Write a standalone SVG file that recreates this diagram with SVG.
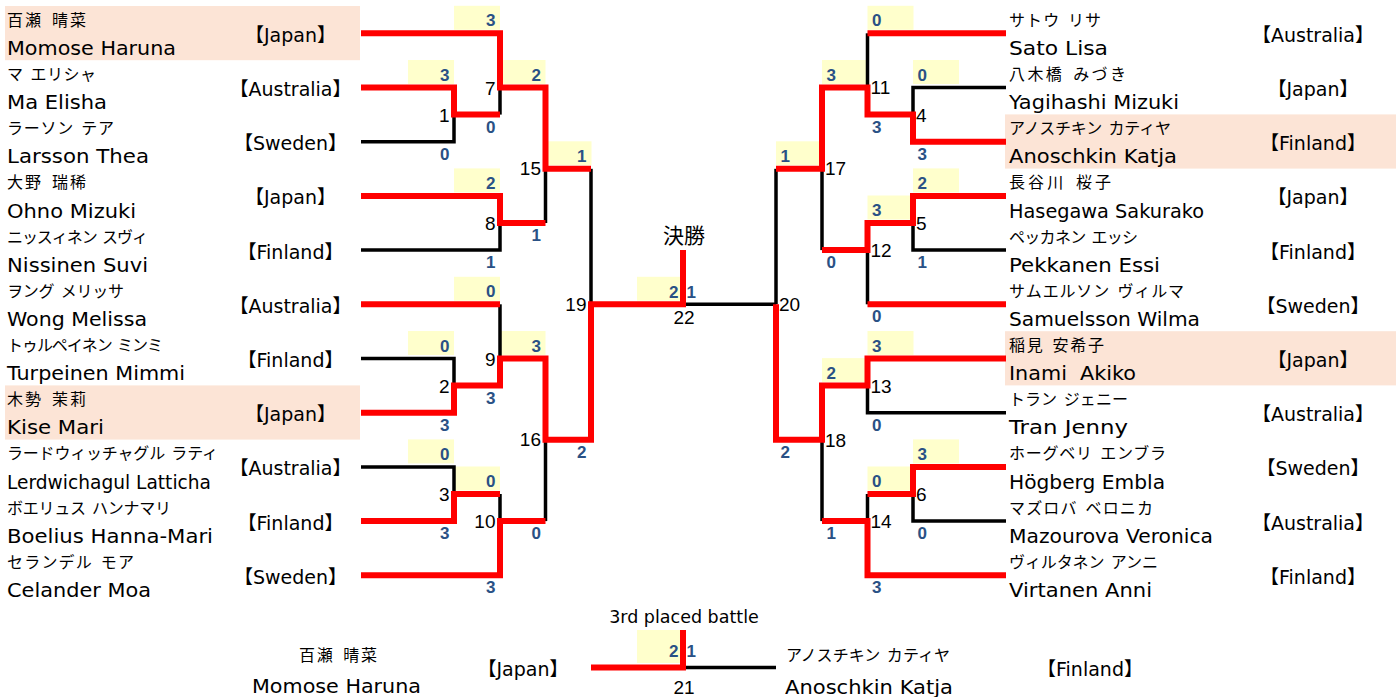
<svg xmlns="http://www.w3.org/2000/svg" width="1396" height="697" viewBox="0 0 1396 697">
<style>
.bg{fill:#FFFFFF}
.hl{fill:#FCE4D6}
.yb{fill:#FFFFCC}
.kana{font-family:"Noto Sans CJK JP","Noto Sans CJK SC",sans-serif;font-size:16px;fill:#000;word-spacing:3px}
.roma{font-family:"DejaVu Sans","Noto Sans CJK JP",sans-serif;font-size:19px;fill:#000}
.cty{font-family:"DejaVu Sans","Noto Sans CJK JP",sans-serif;font-size:19px;fill:#000;text-anchor:middle}
.num{font-family:"Liberation Sans",sans-serif;font-size:19px;fill:#000}
.numL{text-anchor:end}
.sc{font-family:"Liberation Sans",sans-serif;font-size:17px;font-weight:bold;fill:#2A5185}
.scL{text-anchor:end}
.red{fill:none;stroke:#FF0000;stroke-width:6;stroke-linejoin:miter;stroke-linecap:butt}
.blk{fill:none;stroke:#000;stroke-width:3.5;stroke-linejoin:miter;stroke-linecap:butt}
.ttl{font-family:"Noto Sans CJK JP",sans-serif;font-size:21px;fill:#000;text-anchor:middle}
.ttl2{font-family:"DejaVu Sans",sans-serif;font-size:17.5px;fill:#000;text-anchor:middle}
</style>
<rect class="bg" x="0" y="0" width="1396" height="697"/>

<!-- Left players -->
<g id="p-L1"><rect class="hl" x="5" y="6" width="355" height="54.2"/><text class="kana" x="7" y="25.8" textLength="79">百瀬 晴菜</text><text class="roma" x="7" y="55" textLength="169" lengthAdjust="spacingAndGlyphs">Momose Haruna</text><text class="cty" x="290.5" y="41.8">【Japan】</text></g>
<g id="p-L2"><text class="kana" x="7" y="80" textLength="89">マ エリシャ</text><text class="roma" x="7" y="109.2" textLength="100" lengthAdjust="spacingAndGlyphs">Ma Elisha</text><text class="cty" x="290.5" y="96">【Australia】</text></g>
<g id="p-L3"><text class="kana" x="7" y="134.2" textLength="107">ラーソン テア</text><text class="roma" x="7" y="163.4" textLength="142" lengthAdjust="spacingAndGlyphs">Larsson Thea</text><text class="cty" x="290.5" y="150.2">【Sweden】</text></g>
<g id="p-L4"><text class="kana" x="7" y="188.4" textLength="79">大野 瑞稀</text><text class="roma" x="7" y="217.6" textLength="129" lengthAdjust="spacingAndGlyphs">Ohno Mizuki</text><text class="cty" x="290.5" y="204.4">【Japan】</text></g>
<g id="p-L5"><text class="kana" x="7" y="242.6" textLength="141">ニッスィネン スヴィ</text><text class="roma" x="7" y="271.8" textLength="141" lengthAdjust="spacingAndGlyphs">Nissinen Suvi</text><text class="cty" x="290.5" y="258.6">【Finland】</text></g>
<g id="p-L6"><text class="kana" x="7" y="296.8" textLength="117">ヲング メリッサ</text><text class="roma" x="7" y="326" textLength="140" lengthAdjust="spacingAndGlyphs">Wong Melissa</text><text class="cty" x="290.5" y="312.8">【Australia】</text></g>
<g id="p-L7"><text class="kana" x="7" y="351" textLength="156">トゥルペイネン ミンミ</text><text class="roma" x="7" y="380.2" textLength="178" lengthAdjust="spacingAndGlyphs">Turpeinen Mimmi</text><text class="cty" x="290.5" y="367">【Finland】</text></g>
<g id="p-L8"><rect class="hl" x="5" y="385.4" width="355" height="54.2"/><text class="kana" x="7" y="405.2" textLength="79">木勢 茉莉</text><text class="roma" x="7" y="434.4" textLength="97" lengthAdjust="spacingAndGlyphs">Kise Mari</text><text class="cty" x="290.5" y="421.2">【Japan】</text></g>
<g id="p-L9"><text class="kana" x="7" y="459.4" textLength="211">ラードウィッチャグル ラティ</text><text class="roma" x="7" y="488.6" textLength="204" lengthAdjust="spacingAndGlyphs">Lerdwichagul Latticha</text><text class="cty" x="290.5" y="475.4">【Australia】</text></g>
<g id="p-L10"><text class="kana" x="7" y="513.6" textLength="164">ボエリュス ハンナマリ</text><text class="roma" x="7" y="542.8" textLength="206" lengthAdjust="spacingAndGlyphs">Boelius Hanna-Mari</text><text class="cty" x="290.5" y="529.6">【Finland】</text></g>
<g id="p-L11"><text class="kana" x="7" y="567.8" textLength="127">セランデル モア</text><text class="roma" x="7" y="597" textLength="144" lengthAdjust="spacingAndGlyphs">Celander Moa</text><text class="cty" x="290.5" y="583.8">【Sweden】</text></g>

<!-- Right players -->
<g id="p-R1"><text class="kana" x="1009" y="25.8" textLength="92">サトウ リサ</text><text class="roma" x="1009" y="55" textLength="99" lengthAdjust="spacingAndGlyphs">Sato Lisa</text><text class="cty" x="1313" y="41.8">【Australia】</text></g>
<g id="p-R2"><text class="kana" x="1009" y="80" textLength="117">八木橋 みづき</text><text class="roma" x="1009" y="109.2" textLength="170" lengthAdjust="spacingAndGlyphs">Yagihashi Mizuki</text><text class="cty" x="1313" y="96">【Japan】</text></g>
<g id="p-R3"><rect class="hl" x="1005" y="114.4" width="391" height="54.2"/><text class="kana" x="1009" y="134.2" textLength="162">アノスチキン カティヤ</text><text class="roma" x="1009" y="163.4" textLength="168" lengthAdjust="spacingAndGlyphs">Anoschkin Katja</text><text class="cty" x="1313" y="150.2">【Finland】</text></g>
<g id="p-R4"><text class="kana" x="1009" y="188.4" textLength="102">長谷川 桜子</text><text class="roma" x="1009" y="217.6" textLength="195" lengthAdjust="spacingAndGlyphs">Hasegawa Sakurako</text><text class="cty" x="1313" y="204.4">【Japan】</text></g>
<g id="p-R5"><text class="kana" x="1009" y="242.6" textLength="129">ペッカネン エッシ</text><text class="roma" x="1009" y="271.8" textLength="151" lengthAdjust="spacingAndGlyphs">Pekkanen Essi</text><text class="cty" x="1313" y="258.6">【Finland】</text></g>
<g id="p-R6"><text class="kana" x="1009" y="296.8" textLength="175">サムエルソン ヴィルマ</text><text class="roma" x="1009" y="326" textLength="191" lengthAdjust="spacingAndGlyphs">Samuelsson Wilma</text><text class="cty" x="1313" y="312.8">【Sweden】</text></g>
<g id="p-R7"><rect class="hl" x="1005" y="331.2" width="391" height="54.2"/><text class="kana" x="1009" y="351" textLength="95">稲見 安希子</text><text class="roma" x="1009" y="380.2" textLength="127" lengthAdjust="spacingAndGlyphs" xml:space="preserve">Inami  Akiko</text><text class="cty" x="1313" y="367">【Japan】</text></g>
<g id="p-R8"><text class="kana" x="1009" y="405.2" textLength="119">トラン ジェニー</text><text class="roma" x="1009" y="434.4" textLength="119" lengthAdjust="spacingAndGlyphs">Tran Jenny</text><text class="cty" x="1313" y="421.2">【Australia】</text></g>
<g id="p-R9"><text class="kana" x="1009" y="459.4" textLength="157">ホーグベリ エンブラ</text><text class="roma" x="1009" y="488.6" textLength="156" lengthAdjust="spacingAndGlyphs">Högberg Embla</text><text class="cty" x="1313" y="475.4">【Sweden】</text></g>
<g id="p-R10"><text class="kana" x="1009" y="513.6" textLength="144">マズロバ ベロニカ</text><text class="roma" x="1009" y="542.8" textLength="204" lengthAdjust="spacingAndGlyphs">Mazourova Veronica</text><text class="cty" x="1313" y="529.6">【Australia】</text></g>
<g id="p-R11"><text class="kana" x="1009" y="567.8" textLength="149">ヴィルタネン アンニ</text><text class="roma" x="1009" y="597" textLength="143" lengthAdjust="spacingAndGlyphs">Virtanen Anni</text><text class="cty" x="1313" y="583.8">【Finland】</text></g>

<!-- Third place players -->
<g id="p-3rd-L"><text class="kana" x="299" y="661" textLength="78">百瀬 晴菜</text><text class="roma" x="252" y="693" textLength="169" lengthAdjust="spacingAndGlyphs">Momose Haruna</text><text class="cty" x="523" y="676">【Japan】</text></g>
<g id="p-3rd-R"><text class="kana" x="786" y="661" textLength="164">アノスチキン カティヤ</text><text class="roma" x="785" y="694" textLength="168" lengthAdjust="spacingAndGlyphs">Anoschkin Katja</text><text class="cty" x="1090" y="676">【Finland】</text></g>

<!-- Score boxes -->
<g id="score-boxes">
<rect class="yb" x="454" y="5.8" width="46" height="24"/>
<rect class="yb" x="408" y="60" width="46" height="24"/>
<rect class="yb" x="499.5" y="60" width="46" height="24"/>
<rect class="yb" x="545.5" y="141.3" width="46" height="24"/>
<rect class="yb" x="454" y="168.4" width="46" height="24"/>
<rect class="yb" x="454" y="276.8" width="46" height="24"/>
<rect class="yb" x="408" y="331" width="46" height="24"/>
<rect class="yb" x="499.5" y="331" width="46" height="24"/>
<rect class="yb" x="408" y="439.4" width="46" height="24"/>
<rect class="yb" x="454" y="466.5" width="46" height="24"/>
<rect class="yb" x="637" y="276.8" width="46" height="24"/>
<rect class="yb" x="867.5" y="5.8" width="46" height="24"/>
<rect class="yb" x="913" y="60" width="46" height="24"/>
<rect class="yb" x="822" y="60" width="46" height="24"/>
<rect class="yb" x="776" y="141.3" width="46" height="24"/>
<rect class="yb" x="913" y="168.4" width="46" height="24"/>
<rect class="yb" x="867.5" y="195.5" width="46" height="24"/>
<rect class="yb" x="867.5" y="331" width="46" height="24"/>
<rect class="yb" x="822" y="358.1" width="46" height="24"/>
<rect class="yb" x="913" y="439.4" width="46" height="24"/>
<rect class="yb" x="867.5" y="466.5" width="46" height="24"/>
<rect class="yb" x="637" y="630" width="46" height="33"/>
</g>

<!-- Connectors -->
<g id="connectors">
<polyline class="blk" points="361,141.7 454,141.7 454,114.6"/>
<polyline class="blk" points="500,87.5 500,114.6"/>
<polyline class="blk" points="361,250.1 500,250.1 500,223"/>
<polyline class="blk" points="545.5,168.8 545.5,223"/>
<polyline class="blk" points="591,168.8 591,304.3"/>
<polyline class="blk" points="500,304.3 500,358.5"/>
<polyline class="blk" points="361,358.5 454,358.5 454,385.6"/>
<polyline class="blk" points="545.5,439.8 545.5,521.1"/>
<polyline class="blk" points="361,466.9 454,466.9 454,494"/>
<polyline class="blk" points="500,494 500,521.1"/>
<polyline class="blk" points="683,304.3 776,304.3"/>
<polyline class="blk" points="1006,87.5 913,87.5 913,114.6"/>
<polyline class="blk" points="867.5,33.3 867.5,87.5"/>
<polyline class="blk" points="1006,250.1 913,250.1 913,223"/>
<polyline class="blk" points="867.5,250.1 867.5,304.3"/>
<polyline class="blk" points="822,168.8 822,250.1"/>
<polyline class="blk" points="776,168.8 776,304.3"/>
<polyline class="blk" points="1006,412.7 867.5,412.7 867.5,385.6"/>
<polyline class="blk" points="822,439.8 822,521.1"/>
<polyline class="blk" points="1006,521.1 913,521.1 913,494"/>
<polyline class="blk" points="867.5,494 867.5,521.1"/>
<polyline class="blk" points="683,667.5 776,667.5"/>

<polyline class="red" points="361,33.3 500,33.3 500,87.5 545.5,87.5 545.5,168.8 591,168.8"/>
<polyline class="red" points="361,87.5 454,87.5 454,114.6 500,114.6"/>
<polyline class="red" points="361,195.9 500,195.9 500,223 545.5,223"/>
<polyline class="red" points="361,304.3 500,304.3"/>
<polyline class="red" points="361,412.7 454,412.7 454,385.6 500,385.6 500,358.5 545.5,358.5 545.5,439.8 591,439.8 591,304.3 683,304.3 683,250"/>
<polyline class="red" points="361,521.1 454,521.1 454,494 500,494"/>
<polyline class="red" points="361,575.3 500,575.3 500,521.1 545.5,521.1"/>
<polyline class="red" points="1006,33.3 867.5,33.3"/>
<polyline class="red" points="1006,141.7 913,141.7 913,114.6 867.5,114.6 867.5,87.5 822,87.5 822,168.8 776,168.8"/>
<polyline class="red" points="1006,195.9 913,195.9 913,223 867.5,223 867.5,250.1 822,250.1"/>
<polyline class="red" points="1006,304.3 867.5,304.3"/>
<polyline class="red" points="1006,358.5 867.5,358.5 867.5,385.6 822,385.6 822,439.8 776,439.8 776,304.3"/>
<polyline class="red" points="1006,466.9 913,466.9 913,494 867.5,494"/>
<polyline class="red" points="1006,575.3 867.5,575.3 867.5,521.1 822,521.1"/>
<polyline class="red" points="591,667.5 683,667.5 683,630"/>
</g>

<!-- Scores -->
<g id="scores">
<text class="sc scL" x="495.5" y="26.3">3</text>
<text class="sc scL" x="449.5" y="80.5">3</text>
<text class="sc scL" x="541" y="80.5">2</text>
<text class="sc scL" x="586.5" y="161.8">1</text>
<text class="sc scL" x="495.5" y="188.9">2</text>
<text class="sc scL" x="495.5" y="297.3">0</text>
<text class="sc scL" x="449.5" y="351.5">0</text>
<text class="sc scL" x="541" y="351.5">3</text>
<text class="sc scL" x="449.5" y="459.9">0</text>
<text class="sc scL" x="495.5" y="487">0</text>
<text class="sc scL" x="678.5" y="297.5">2</text>
<text class="sc" x="686.5" y="297.5">1</text>
<text class="sc scL" x="449.5" y="159.7">0</text>
<text class="sc scL" x="495.5" y="132.6">0</text>
<text class="sc scL" x="495.5" y="268.1">1</text>
<text class="sc scL" x="541" y="241">1</text>
<text class="sc scL" x="449.5" y="430.7">3</text>
<text class="sc scL" x="495.5" y="403.6">3</text>
<text class="sc scL" x="586.5" y="457.8">2</text>
<text class="sc scL" x="449.5" y="539.1">3</text>
<text class="sc scL" x="541" y="539.1">0</text>
<text class="sc scL" x="495.5" y="593.3">3</text>
<text class="sc" x="872" y="26.3">0</text>
<text class="sc" x="917.5" y="80.5">0</text>
<text class="sc" x="826.5" y="80.5">3</text>
<text class="sc" x="780.5" y="161.8">1</text>
<text class="sc" x="917.5" y="188.9">2</text>
<text class="sc" x="872" y="216">3</text>
<text class="sc" x="872" y="351.5">3</text>
<text class="sc" x="826.5" y="378.6">2</text>
<text class="sc" x="917.5" y="459.9">3</text>
<text class="sc" x="872" y="487">0</text>
<text class="sc" x="872" y="132.6">3</text>
<text class="sc" x="917.5" y="159.7">3</text>
<text class="sc" x="917.5" y="268.1">1</text>
<text class="sc" x="826.5" y="268.1">0</text>
<text class="sc" x="872" y="322.3">0</text>
<text class="sc" x="872" y="430.7">0</text>
<text class="sc" x="780.5" y="457.8">2</text>
<text class="sc" x="826.5" y="539.1">1</text>
<text class="sc" x="917.5" y="539.1">0</text>
<text class="sc" x="872" y="593.3">3</text>
<text class="sc scL" x="678.5" y="657">2</text>
<text class="sc" x="686.5" y="657">1</text>
</g>

<!-- Match labels -->
<g id="match-labels">
<text class="num numL" x="449.5" y="121.6">1</text>
<text class="num numL" x="495.5" y="95">7</text>
<text class="num numL" x="541" y="175.3">15</text>
<text class="num numL" x="495.5" y="230">8</text>
<text class="num numL" x="586.5" y="311">19</text>
<text class="num numL" x="495.5" y="366">9</text>
<text class="num numL" x="449.5" y="392.6">2</text>
<text class="num numL" x="541" y="445.5">16</text>
<text class="num numL" x="449.5" y="500.5">3</text>
<text class="num numL" x="495.5" y="527.5">10</text>
<text class="num" x="870.5" y="94">11</text>
<text class="num" x="916" y="121.6">4</text>
<text class="num" x="825" y="175.3">17</text>
<text class="num" x="916" y="230">5</text>
<text class="num" x="870.5" y="256.6">12</text>
<text class="num" x="779" y="311">20</text>
<text class="num" x="870.5" y="392.6">13</text>
<text class="num" x="825" y="446.5">18</text>
<text class="num" x="916" y="500.5">6</text>
<text class="num" x="870.5" y="527.5">14</text>
<text class="num" x="684" y="324" text-anchor="middle">22</text>
<text class="num" x="684" y="694" text-anchor="middle">21</text>
</g>

<g id="titles">
<text class="ttl" x="684" y="243">決勝</text>
<text class="ttl2" x="684" y="623">3rd placed battle</text>
</g>
</svg>
